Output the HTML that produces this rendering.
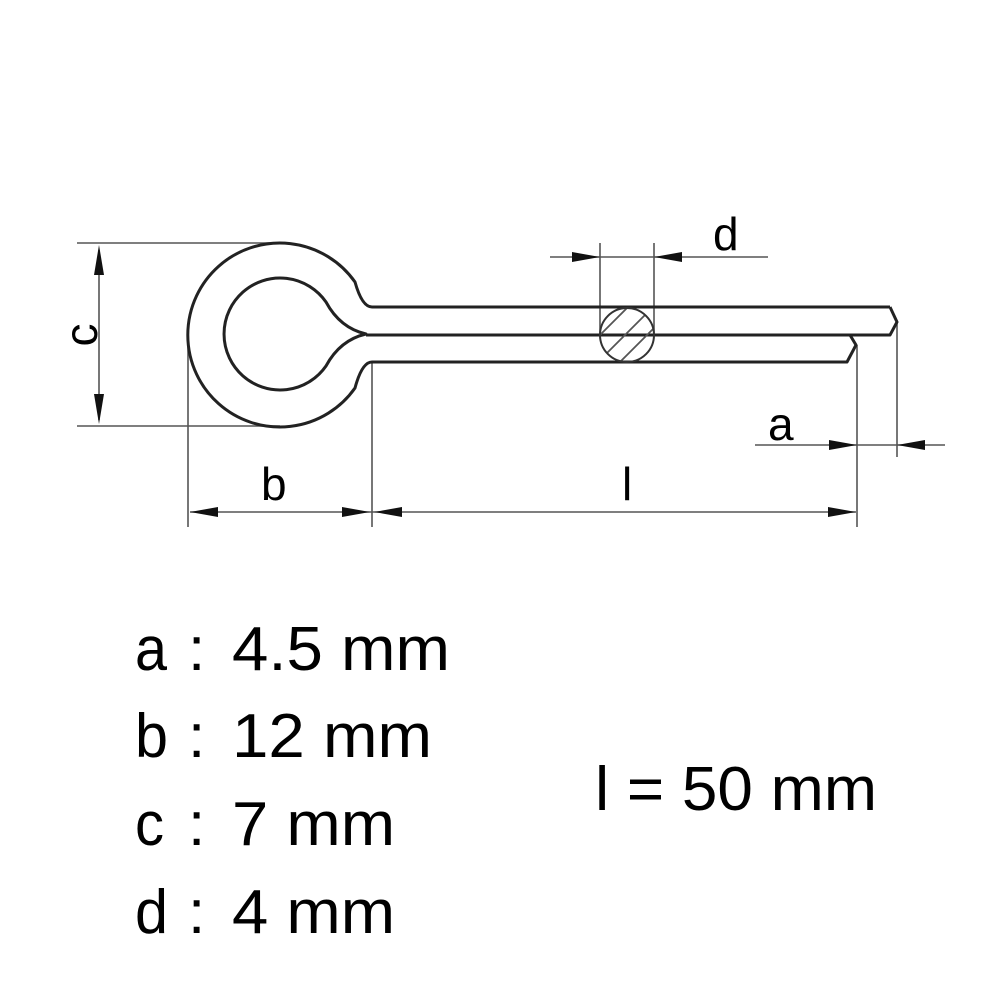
<!DOCTYPE html>
<html><head><meta charset="utf-8"><style>
html,body{margin:0;padding:0;background:#fff;}
svg{display:block;}
.t{font-family:"Liberation Sans",sans-serif;fill:#000;}
</style></head><body>
<svg width="1001" height="1001" viewBox="0 0 1001 1001" xmlns="http://www.w3.org/2000/svg">
<defs>
<clipPath id="cc"><circle cx="627" cy="335" r="27"/></clipPath>
</defs>
<rect width="1001" height="1001" fill="#fff"/>
<g stroke="#555" stroke-width="1.6" fill="none">
 <line x1="77" y1="243" x2="280" y2="243"/>
 <line x1="77" y1="426" x2="280" y2="426"/>
 <line x1="99" y1="250" x2="99" y2="420"/>
 <line x1="188" y1="345" x2="188" y2="527"/>
 <line x1="372" y1="362" x2="372" y2="527"/>
 <line x1="190" y1="512" x2="856" y2="512"/>
 <line x1="600" y1="243" x2="600" y2="335"/>
 <line x1="654" y1="243" x2="654" y2="335"/>
 <line x1="550" y1="257" x2="768" y2="257"/>
 <line x1="857" y1="345" x2="857" y2="527"/>
 <line x1="897" y1="323" x2="897" y2="457"/>
 <line x1="755" y1="445" x2="945" y2="445"/>
</g>
<g fill="#111">
 <polygon points="99,245 94,275 104,275"/>
 <polygon points="99,424 94,394 104,394"/>
 <polygon points="190,512 218,507 218,517"/>
 <polygon points="370,512 342,507 342,517"/>
 <polygon points="374,512 402,507 402,517"/>
 <polygon points="856,512 828,507 828,517"/>
 <polygon points="600,257 572,252 572,262"/>
 <polygon points="654,257 682,252 682,262"/>
 <polygon points="857,445 829,440 829,450"/>
 <polygon points="897,445 925,440 925,450"/>
</g>
<g stroke="#222" stroke-width="3" fill="none" stroke-linejoin="round">
 <path d="M 890,307 L 372,307 Q 362,307 355,282 A 92 92 0 1 0 355,388 Q 362,362 372,362 L 847,362 L 856,345 L 850,335"/>
 <path d="M 890,307 L 897,322 L 890,335 L 366,335"/>
 <path d="M 366,334 Q 340,328 326,302 A 56 56 0 1 0 326,366 Q 340,340 366,334 Z"/>
</g>
<g clip-path="url(#cc)" stroke="#555" stroke-width="1.8">
 <line x1="590" y1="345" x2="640" y2="295"/>
 <line x1="595" y1="365" x2="655" y2="305"/>
 <line x1="612" y1="370" x2="665" y2="317"/>
 <line x1="630" y1="372" x2="670" y2="332"/>
</g>
<circle cx="627" cy="335" r="27" stroke="#333" stroke-width="2" fill="none"/>
<text class="t" x="713" y="250" font-size="46" fill="#333">d</text>
<text class="t" x="768" y="440" font-size="46" fill="#333">a</text>
<text class="t" x="261" y="500" font-size="46" fill="#333">b</text>
<text class="t" x="622" y="500" font-size="46" fill="#333">l</text>
<text class="t" font-size="46" fill="#333" transform="translate(97,335) rotate(-90)" text-anchor="middle">c</text>
<g class="t" font-size="62">
 <text x="135" y="670" textLength="32" lengthAdjust="spacingAndGlyphs">a</text><text x="188" y="670">:</text>
 <text x="232" y="670" textLength="218" lengthAdjust="spacingAndGlyphs">4.5 mm</text>
 <text x="135" y="757" textLength="33" lengthAdjust="spacingAndGlyphs">b</text><text x="188" y="757">:</text>
 <text x="232" y="757" textLength="200" lengthAdjust="spacingAndGlyphs">12 mm</text>
 <text x="135" y="845" textLength="29" lengthAdjust="spacingAndGlyphs">c</text><text x="188" y="845">:</text>
 <text x="232" y="845" textLength="163" lengthAdjust="spacingAndGlyphs">7 mm</text>
 <text x="135" y="933" textLength="33" lengthAdjust="spacingAndGlyphs">d</text><text x="188" y="933">:</text>
 <text x="232" y="933" textLength="163" lengthAdjust="spacingAndGlyphs">4 mm</text>
 <text x="595" y="810" textLength="282" lengthAdjust="spacingAndGlyphs">l = 50 mm</text>
</g>
</svg>
</body></html>
